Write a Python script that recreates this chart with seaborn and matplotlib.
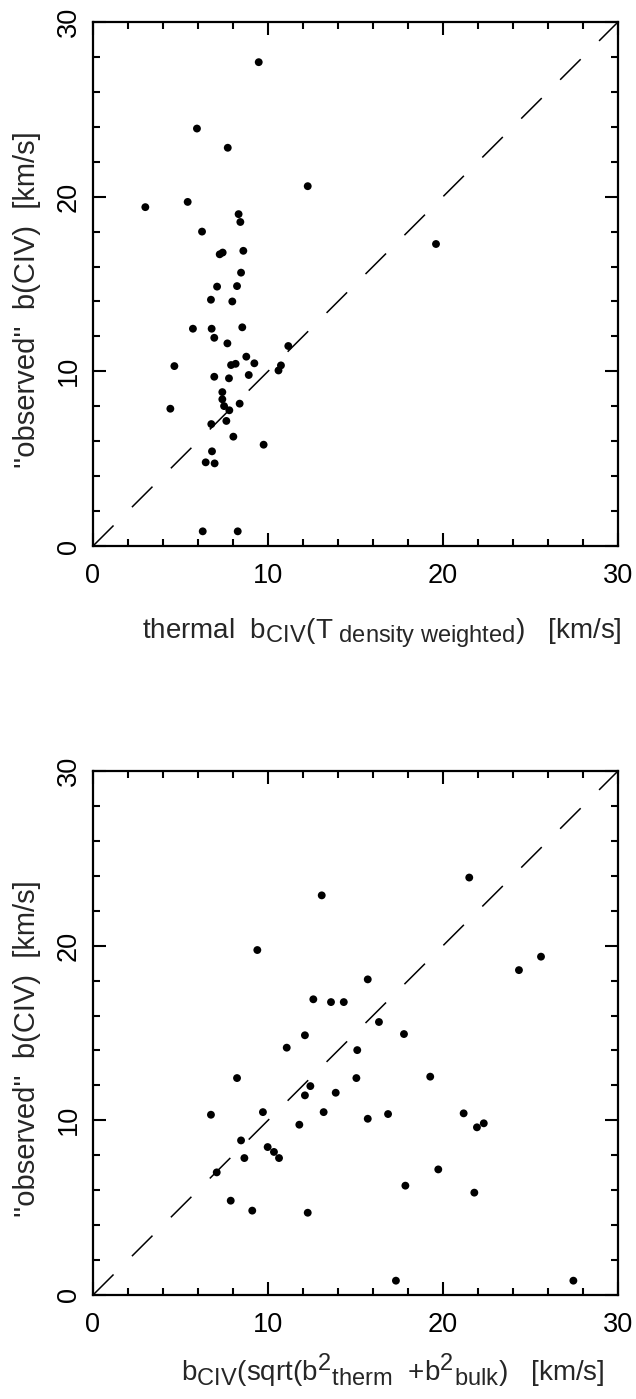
import matplotlib
matplotlib.use("Agg")
import matplotlib.pyplot as plt
import matplotlib._mathtext as _mt
from matplotlib.ticker import MultipleLocator
import seaborn as sns
import pandas as pd

# larger sub/superscripts, as in the reference
_mt.SHRINK_FACTOR = 0.85

# ---- data ----
thermal_b = [9.47, 5.94, 7.7, 12.27, 2.99, 5.41, 8.32, 8.42, 6.23, 7.24,
             7.41, 8.59, 8.46, 7.09, 8.23, 6.74, 7.96, 5.71, 6.78, 8.53,
             6.93, 7.68, 11.16, 8.76, 4.65, 7.89, 8.15, 9.22, 10.74, 10.6,
             8.9, 6.93, 7.77, 7.39, 7.39, 7.49, 8.38, 7.79, 4.42, 7.62,
             6.76, 8.02, 9.75, 6.8, 6.44, 6.95, 6.27, 8.27, 19.6]
observed_b_top = [27.7, 23.9, 22.8, 20.6, 19.4, 19.7, 19.0, 18.55, 18.0, 16.7,
                  16.8, 16.9, 15.65, 14.85, 14.88, 14.1, 14.0, 12.44, 12.44, 12.52,
                  11.92, 11.6, 11.45, 10.84, 10.3, 10.36, 10.43, 10.46, 10.34, 10.05,
                  9.79, 9.69, 9.6, 8.81, 8.4, 8.01, 8.15, 7.77, 7.86, 7.16,
                  6.98, 6.26, 5.8, 5.42, 4.79, 4.73, 0.84, 0.84, 17.29]

total_b = [13.07, 9.39, 15.7, 12.59, 13.6, 14.33, 16.34, 12.11, 11.07, 15.1,
           8.23, 15.05, 12.42, 12.11, 13.87, 6.74, 9.71, 13.18, 15.7, 16.86,
           11.79, 8.46, 9.98, 10.34, 10.63, 8.65, 7.07, 7.87, 9.1, 12.27,
           21.5, 25.6, 24.34, 17.77, 19.27, 21.18, 21.94, 22.33, 19.73, 17.85,
           21.79, 17.31, 27.45]
observed_b_bot = [22.88, 19.75, 18.07, 16.93, 16.77, 16.77, 15.63, 14.87, 14.16, 14.02,
                  12.42, 12.42, 11.96, 11.43, 11.58, 10.32, 10.47, 10.47, 10.09, 10.36,
                  9.75, 8.85, 8.47, 8.19, 7.84, 7.84, 7.02, 5.4, 4.83, 4.71,
                  23.9, 19.37, 18.6, 14.94, 12.5, 10.4, 9.6, 9.83, 7.19, 6.26,
                  5.86, 0.82, 0.82]

one_to_one = [0, 30]
axis_range = [0, 30]
tick_values = [0, 10, 20, 30]
tick_labels = ["0", "10", "20", "30"]

ylabel = "''observed''  b(CIV)  [km/s]"
xlabel_top = r"thermal  b$_{\mathrm{CIV}}$(T$_{\mathrm{\ density\ weighted}}$)   [km/s]"
xlabel_bot = r"b$_{\mathrm{CIV}}$(sqrt(b$^{2}$$_{\mathrm{therm}}$  +b$^{2}$$_{\mathrm{bulk}}$)   [km/s]"

sns.set_theme(style="ticks")
plt.rcParams["font.family"] = ["Liberation Sans", "DejaVu Sans"]
plt.rcParams["mathtext.fontset"] = "custom"
plt.rcParams["mathtext.rm"] = "Liberation Sans"
plt.rcParams["mathtext.it"] = "Liberation Sans:italic"
plt.rcParams["mathtext.bf"] = "Liberation Sans:bold"

fig = plt.figure(figsize=(6.36, 13.99), dpi=100)
ax1 = fig.add_axes([93/636, 1 - 546/1399, 525/636, 524/1399])
ax2 = fig.add_axes([93/636, 1 - 1295/1399, 525/636, 524/1399])

panels = [
    (ax1, thermal_b, observed_b_top, xlabel_top, 0.55, -0.134),
    (ax2, total_b, observed_b_bot, xlabel_bot, 0.571, -0.108),
]

for ax, xs, ys, xl, xlx, xly in panels:
    df = pd.DataFrame({"x": xs, "y": ys})
    line = pd.DataFrame({"x": one_to_one, "y": one_to_one})
    sns.lineplot(data=line, x="x", y="y", ax=ax, color="black", linewidth=1.1)
    ax.lines[-1].set_dashes((19, 17))
    sns.scatterplot(data=df, x="x", y="y", ax=ax, color="black", s=32,
                    edgecolor="none", linewidth=0, zorder=3)
    ax.set_xlim(axis_range)
    ax.set_ylim(axis_range)
    ax.xaxis.set_minor_locator(MultipleLocator(2))
    ax.yaxis.set_minor_locator(MultipleLocator(2))
    ax.set_xticks(tick_values)
    ax.set_xticklabels(tick_labels)
    ax.set_yticks(tick_values)
    ax.set_yticklabels(tick_labels, rotation=90, va="center")
    ax.tick_params(which="both", direction="in", top=True, right=True,
                   width=1.5, colors="black", labelsize=19.5)
    ax.tick_params(which="major", length=9.5)
    ax.tick_params(which="minor", length=5)
    ax.tick_params(axis="x", which="major", pad=12)
    ax.tick_params(axis="y", which="major", pad=8)
    for sp in ax.spines.values():
        sp.set_linewidth(1.6)
        sp.set_color("black")
    ax.set_xlabel(xl, fontsize=20)
    ax.xaxis.set_label_coords(xlx, xly)
    ax.set_ylabel(ylabel, fontsize=21)
    ax.yaxis.label.set_verticalalignment("center")
    ax.yaxis.set_label_coords(-0.126, 0.47)
    ax.grid(False)

fig.savefig("out.png", dpi=100, facecolor="white")
